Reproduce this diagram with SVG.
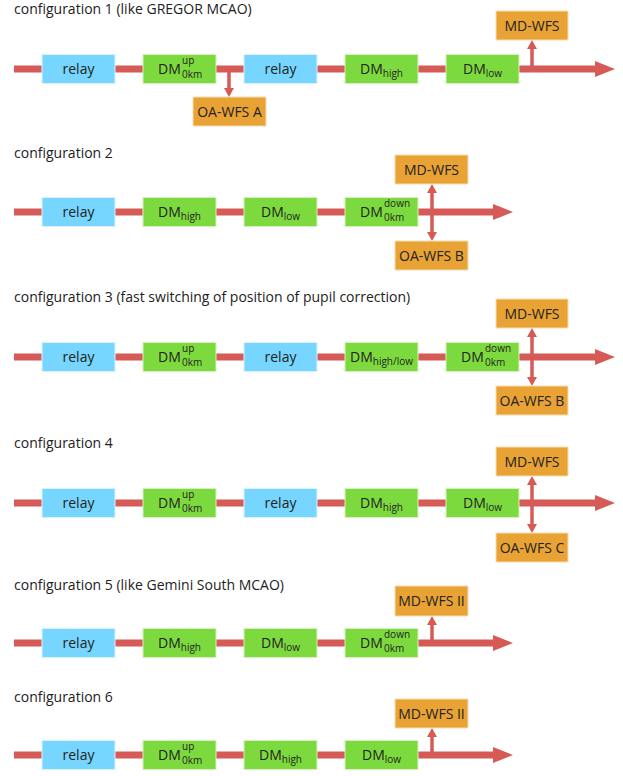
<svg xmlns="http://www.w3.org/2000/svg" width="623" height="776" viewBox="0 0 623 776">
<style>
text{font-family:"Open Sans","DejaVu Sans",sans-serif;fill:#222;}
.t{font-size:14px;}
.b{font-size:14px;text-anchor:middle;}
.s{font-size:10px;}
.relay{fill:#76D6FF;stroke:#D8F3FF;stroke-width:1;}
.dm{fill:#7DDA3E;stroke:#D5F2C0;stroke-width:1;}
.wfs{fill:#E9A234;stroke:#F7DDB4;stroke-width:1;}
.ln{stroke:#D65A56;stroke-width:7;fill:none;}
.vl{stroke:#D65A56;stroke-width:3.5;fill:none;}
.hd{fill:#D65A56;}
</style>
<rect width="623" height="776" fill="#fff"/>
<g id="connectors">
<line class="ln" x1="14" y1="69" x2="598" y2="69"/><polygon class="hd" points="615,69 595,61 595,77"/>
<line class="vl" x1="532" y1="69" x2="532" y2="48"/><polygon class="hd" points="532,40 527,49 537,49"/>
<line class="vl" x1="229" y1="69" x2="229" y2="89"/><polygon class="hd" points="229,97 224,88 234,88"/>
<line class="ln" x1="14" y1="212" x2="496" y2="212"/><polygon class="hd" points="513,212 493,204 493,220"/>
<line class="vl" x1="432" y1="192" x2="432" y2="233"/><polygon class="hd" points="432,184 427,193 437,193"/><polygon class="hd" points="432,241 427,232 437,232"/>
<line class="ln" x1="14" y1="357" x2="598" y2="357"/><polygon class="hd" points="615,357 595,349 595,365"/>
<line class="vl" x1="532" y1="336" x2="532" y2="378"/><polygon class="hd" points="532,328 527,337 537,337"/><polygon class="hd" points="532,386 527,377 537,377"/>
<line class="ln" x1="14" y1="503" x2="598" y2="503"/><polygon class="hd" points="615,503 595,495 595,511"/>
<line class="vl" x1="532" y1="484" x2="532" y2="525"/><polygon class="hd" points="532,476 527,485 537,485"/><polygon class="hd" points="532,533 527,524 537,524"/>
<line class="ln" x1="14" y1="643" x2="496" y2="643"/><polygon class="hd" points="513,643 493,635 493,651"/>
<line class="vl" x1="432" y1="643" x2="432" y2="624"/><polygon class="hd" points="432,616 427,625 437,625"/>
<line class="ln" x1="14" y1="755" x2="496" y2="755"/><polygon class="hd" points="513,755 493,747 493,763"/>
<line class="vl" x1="432" y1="755" x2="432" y2="736"/><polygon class="hd" points="432,728 427,737 437,737"/>
</g>
<!-- configuration 1 -->
<g id="title1"><text class="t" x="14" y="14">configuration 1 (like GREGOR MCAO)</text></g>
<g id="c1-relay1"><rect class="relay" x="42" y="54.5" width="73" height="29"/><text class="b" x="78.5" y="74">relay</text></g>
<g id="c1-dm1"><rect class="dm" x="143" y="54.5" width="73" height="29"/><text class="t" x="158" y="74">DM<tspan class="s" x="182" y="64">up</tspan><tspan class="s" x="182" y="78">0km</tspan></text></g>
<g id="c1-relay2"><rect class="relay" x="244" y="54.5" width="73" height="29"/><text class="b" x="280.5" y="74">relay</text></g>
<g id="c1-dm2"><rect class="dm" x="345" y="54.5" width="73" height="29"/><text class="b" x="381.5" y="74">DM<tspan class="s" dy="3">high</tspan></text></g>
<g id="c1-dm3"><rect class="dm" x="446" y="54.5" width="73" height="29"/><text class="b" x="482.5" y="74">DM<tspan class="s" dy="3">low</tspan></text></g>
<g id="c1-mdwfs"><rect class="wfs" x="496" y="11" width="72" height="29"/><text class="b" x="532" y="30.5">MD-WFS</text></g>
<g id="c1-oawfs"><rect class="wfs" x="193" y="97" width="73" height="29"/><text class="b" x="229.5" y="116.5">OA-WFS A</text></g>
<!-- configuration 2 -->
<g id="title2"><text class="t" x="14" y="158">configuration 2</text></g>
<g id="c2-relay1"><rect class="relay" x="42" y="197.5" width="73" height="29"/><text class="b" x="78.5" y="217">relay</text></g>
<g id="c2-dm1"><rect class="dm" x="143" y="197.5" width="73" height="29"/><text class="b" x="179.5" y="217">DM<tspan class="s" dy="3">high</tspan></text></g>
<g id="c2-dm2"><rect class="dm" x="244" y="197.5" width="73" height="29"/><text class="b" x="280.5" y="217">DM<tspan class="s" dy="3">low</tspan></text></g>
<g id="c2-dm3"><rect class="dm" x="345" y="197.5" width="73" height="29"/><text class="t" x="360" y="217">DM<tspan class="s" x="384" y="207">down</tspan><tspan class="s" x="384" y="221">0km</tspan></text></g>
<g id="c2-mdwfs"><rect class="wfs" x="395" y="155" width="73" height="29"/><text class="b" x="431.5" y="174.5">MD-WFS</text></g>
<g id="c2-oawfs"><rect class="wfs" x="395" y="241" width="73" height="29"/><text class="b" x="431.5" y="260.5">OA-WFS B</text></g>
<!-- configuration 3 -->
<g id="title3"><text class="t" x="14" y="302">configuration 3 (fast switching of position of pupil correction)</text></g>
<g id="c3-relay1"><rect class="relay" x="42" y="342.5" width="73" height="29"/><text class="b" x="78.5" y="362">relay</text></g>
<g id="c3-dm1"><rect class="dm" x="143" y="342.5" width="73" height="29"/><text class="t" x="158" y="362">DM<tspan class="s" x="182" y="352">up</tspan><tspan class="s" x="182" y="366">0km</tspan></text></g>
<g id="c3-relay2"><rect class="relay" x="244" y="342.5" width="73" height="29"/><text class="b" x="280.5" y="362">relay</text></g>
<g id="c3-dm2"><rect class="dm" x="345" y="342.5" width="73" height="29"/><text class="b" x="381.5" y="362">DM<tspan class="s" dy="3">high/low</tspan></text></g>
<g id="c3-dm3"><rect class="dm" x="446" y="342.5" width="73" height="29"/><text class="t" x="461" y="362">DM<tspan class="s" x="485" y="352">down</tspan><tspan class="s" x="485" y="366">0km</tspan></text></g>
<g id="c3-mdwfs"><rect class="wfs" x="496" y="299" width="72" height="29"/><text class="b" x="532" y="318.5">MD-WFS</text></g>
<g id="c3-oawfs"><rect class="wfs" x="496" y="386" width="72" height="29"/><text class="b" x="532" y="405.5">OA-WFS B</text></g>
<!-- configuration 4 -->
<g id="title4"><text class="t" x="14" y="448">configuration 4</text></g>
<g id="c4-relay1"><rect class="relay" x="42" y="488.5" width="73" height="29"/><text class="b" x="78.5" y="508">relay</text></g>
<g id="c4-dm1"><rect class="dm" x="143" y="488.5" width="73" height="29"/><text class="t" x="158" y="508">DM<tspan class="s" x="182" y="498">up</tspan><tspan class="s" x="182" y="512">0km</tspan></text></g>
<g id="c4-relay2"><rect class="relay" x="244" y="488.5" width="73" height="29"/><text class="b" x="280.5" y="508">relay</text></g>
<g id="c4-dm2"><rect class="dm" x="345" y="488.5" width="73" height="29"/><text class="b" x="381.5" y="508">DM<tspan class="s" dy="3">high</tspan></text></g>
<g id="c4-dm3"><rect class="dm" x="446" y="488.5" width="73" height="29"/><text class="b" x="482.5" y="508">DM<tspan class="s" dy="3">low</tspan></text></g>
<g id="c4-mdwfs"><rect class="wfs" x="496" y="447" width="72" height="29"/><text class="b" x="532" y="466.5">MD-WFS</text></g>
<g id="c4-oawfs"><rect class="wfs" x="496" y="533" width="72" height="29"/><text class="b" x="532" y="552.5">OA-WFS C</text></g>
<!-- configuration 5 -->
<g id="title5"><text class="t" x="14" y="590">configuration 5 (like Gemini South MCAO)</text></g>
<g id="c5-relay1"><rect class="relay" x="42" y="628.5" width="73" height="29"/><text class="b" x="78.5" y="648">relay</text></g>
<g id="c5-dm1"><rect class="dm" x="143" y="628.5" width="73" height="29"/><text class="b" x="179.5" y="648">DM<tspan class="s" dy="3">high</tspan></text></g>
<g id="c5-dm2"><rect class="dm" x="244" y="628.5" width="73" height="29"/><text class="b" x="280.5" y="648">DM<tspan class="s" dy="3">low</tspan></text></g>
<g id="c5-dm3"><rect class="dm" x="345" y="628.5" width="73" height="29"/><text class="t" x="360" y="648">DM<tspan class="s" x="384" y="638">down</tspan><tspan class="s" x="384" y="652">0km</tspan></text></g>
<g id="c5-mdwfs"><rect class="wfs" x="395" y="586" width="73" height="30"/><text class="b" x="431.5" y="606">MD-WFS II</text></g>
<!-- configuration 6 -->
<g id="title6"><text class="t" x="14" y="702">configuration 6</text></g>
<g id="c6-relay1"><rect class="relay" x="42" y="740.5" width="73" height="29"/><text class="b" x="78.5" y="760">relay</text></g>
<g id="c6-dm1"><rect class="dm" x="143" y="740.5" width="73" height="29"/><text class="t" x="158" y="760">DM<tspan class="s" x="182" y="750">up</tspan><tspan class="s" x="182" y="764">0km</tspan></text></g>
<g id="c6-dm2"><rect class="dm" x="244" y="740.5" width="73" height="29"/><text class="b" x="280.5" y="760">DM<tspan class="s" dy="3">high</tspan></text></g>
<g id="c6-dm3"><rect class="dm" x="345" y="740.5" width="73" height="29"/><text class="b" x="381.5" y="760">DM<tspan class="s" dy="3">low</tspan></text></g>
<g id="c6-mdwfs"><rect class="wfs" x="395" y="699" width="73" height="29"/><text class="b" x="431.5" y="718.5">MD-WFS II</text></g>
</svg>
